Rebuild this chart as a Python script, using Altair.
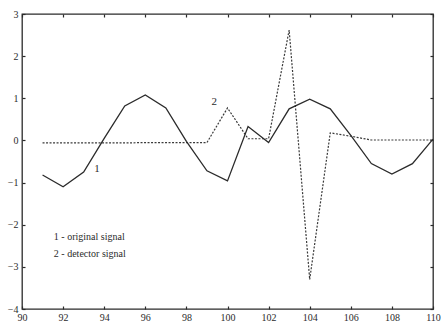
import altair as alt
import pandas as pd

# Data
x_vals = list(range(91, 111))
original = [-0.82, -1.10, -0.75, 0.05, 0.82, 1.08, 0.77, -0.02, -0.72, -0.96,
            0.33, -0.05, 0.75, 0.98, 0.75, 0.12, -0.55, -0.80, -0.55, 0.03]
detector = [-0.06, -0.06, -0.06, -0.06, -0.06, -0.05, -0.05, -0.05, -0.05, 0.77,
            0.04, 0.04, 2.62, -3.30, 0.18, 0.10, 0.01, 0.01, 0.01, 0.01]

x_ticks = list(range(90, 111, 2))
y_ticks = [3, 2, 1, 0, -1, -2, -3, -4]

label_text = ["1", "2"]
label_x = [93.65, 99.35]
label_y = [-0.67, 0.92]

legend_text = ["1 - original signal", "2 - detector signal"]
legend_x = [91.55, 91.55]
legend_y = [-2.3, -2.7]

FONT = "Liberation Serif"
INK = "#2b2b2b"

df1 = pd.DataFrame({"x": x_vals, "y": original})
df2 = pd.DataFrame({"x": x_vals, "y": detector})

xs = alt.Scale(domain=[90, 110], nice=False, zero=False)
ys = alt.Scale(domain=[-4, 3], nice=False, zero=False)

TS = 3  # inward tick length

def axis(values, orient, labels=True, pad=3):
    return alt.Axis(values=values, orient=orient, title=None, grid=False, domain=False,
                    ticks=True, tickSize=TS, tickColor=INK, tickWidth=1.2, offset=-TS,
                    labels=labels, labelFont=FONT, labelFontSize=10, labelColor=INK,
                    labelPadding=pad, labelFlush=False)

line1 = alt.Chart(df1).mark_line(color=INK, strokeWidth=1.3).encode(
    x=alt.X("x:Q", scale=xs, axis=axis(x_ticks, "bottom", pad=3)),
    y=alt.Y("y:Q", scale=ys, axis=axis(y_ticks, "left", pad=4)),
)
line2 = alt.Chart(df2).mark_line(color="#3a3a3a", strokeWidth=1.2, strokeDash=[2, 1.5]).encode(
    x=alt.X("x:Q", scale=xs, axis=axis(x_ticks, "bottom", pad=3)),
    y=alt.Y("y:Q", scale=ys, axis=axis(y_ticks, "left", pad=4)),
)

# invisible layer carrying the top and right tick axes
frame_axes = alt.Chart(df1).mark_line(opacity=0).encode(
    x=alt.X("x:Q", scale=xs, axis=axis(x_ticks, "top", labels=False)),
    y=alt.Y("y:Q", scale=ys, axis=axis(y_ticks, "right", labels=False)),
)

labels = alt.Chart(pd.DataFrame({"t": label_text, "x": label_x, "y": label_y})).mark_text(
    font=FONT, fontSize=11, color=INK, align="center", baseline="middle").encode(
    x=alt.X("x:Q", scale=xs, axis=axis(x_ticks, "bottom", pad=3)),
    y=alt.Y("y:Q", scale=ys, axis=axis(y_ticks, "left", pad=4)), text="t:N")

legend = alt.Chart(pd.DataFrame({"t": legend_text, "x": legend_x, "y": legend_y})).mark_text(
    font=FONT, fontSize=10, color=INK, align="left", baseline="middle").encode(
    x=alt.X("x:Q", scale=xs, axis=axis(x_ticks, "bottom", pad=3)),
    y=alt.Y("y:Q", scale=ys, axis=axis(y_ticks, "left", pad=4)), text="t:N")

base = alt.layer(line2, line1, labels, legend)

chart = alt.layer(base, frame_axes).resolve_axis(x="independent", y="independent").properties(
    width=411, height=295,
    autosize=alt.AutoSizeParams(type="none"),
    padding={"left": 22, "top": 14, "right": 8, "bottom": 15},
    background="white",
).configure_view(stroke=INK, strokeWidth=1.3)

chart.save("out.html", embed_options={"renderer": "svg", "actions": False})
